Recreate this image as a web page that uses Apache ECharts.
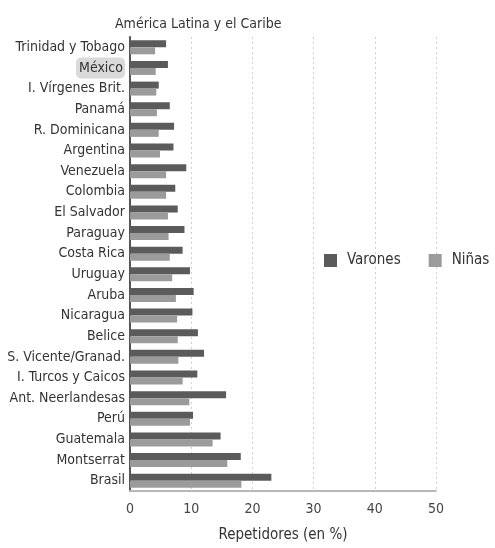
<!DOCTYPE html>
<html>
<head>
<meta charset="utf-8">
<script src="https://cdn.jsdelivr.net/npm/echarts@6/dist/echarts.min.js"></script>
<style>
  html, body { margin: 0; padding: 0; background: #fff; }
  #chart { width: 495px; height: 548px; }
</style>
</head>
<body>
<div id="chart"></div>
<script>
// Countries, listed top to bottom
const countries = [
  'Trinidad y Tobago', 'México', 'I. Vírgenes Brit.', 'Panamá', 'R. Dominicana',
  'Argentina', 'Venezuela', 'Colombia', 'El Salvador', 'Paraguay', 'Costa Rica',
  'Uruguay', 'Aruba', 'Nicaragua', 'Belice', 'S. Vicente/Granad.',
  'I. Turcos y Caicos', 'Ant. Neerlandesas', 'Perú', 'Guatemala', 'Montserrat', 'Brasil'
];
// Repeaters (%) by sex
const varones = [5.9, 6.2, 4.7, 6.5, 7.2, 7.1, 9.2, 7.4, 7.8, 8.9, 8.6, 9.8, 10.4, 10.2, 11.1, 12.1, 11.0, 15.7, 10.3, 14.8, 18.1, 23.1];
const ninas   = [4.1, 4.2, 4.3, 4.4, 4.7, 4.9, 5.9, 5.9, 6.2, 6.3, 6.5, 6.9, 7.5, 7.7, 7.8, 7.9, 8.6, 9.7, 9.8, 13.5, 15.9, 18.2];
const xTicks = [0, 10, 20, 30, 40, 50];
const highlighted = 'México';

const FONT = '"DejaVu Sans Condensed", "DejaVu Sans", sans-serif';

const chart = echarts.init(document.getElementById('chart'));
chart.setOption({
  backgroundColor: '#fff',
  animation: false,
  textStyle: { fontFamily: FONT },
  title: {
    text: 'América Latina y el Caribe',
    left: 110, top: 12,
    textStyle: { fontFamily: FONT, fontSize: 14, fontWeight: 'normal', color: '#333' }
  },
  legend: {
    data: ['Varones', 'Niñas'],
    orient: 'horizontal',
    left: 324, top: 253, width: 171, padding: 0,
    itemWidth: 13, itemHeight: 13, itemGap: 28,
    icon: 'rect',
    textStyle: { fontFamily: FONT, fontSize: 15, color: '#333', padding: [0, 0, 0, 5] }
  },
  grid: { left: 130, right: 59, top: 37, bottom: 53, containLabel: false },
  xAxis: {
    type: 'value',
    min: xTicks[0], max: xTicks[xTicks.length - 1], interval: 10,
    name: 'Repetidores (en %)',
    nameLocation: 'middle', nameGap: 37,
    nameTextStyle: { fontFamily: FONT, fontSize: 15, color: '#333' },
    axisLine: { show: true, lineStyle: { color: '#b8b8b8', width: 2 } },
    axisTick: { show: false },
    axisLabel: { fontFamily: FONT, fontSize: 14, color: '#444', margin: 11 },
    splitLine: { show: true, lineStyle: { color: '#cfcfcf', type: [2, 3], width: 1 } }
  },
  yAxis: {
    type: 'category',
    data: countries,
    inverse: true,
    axisLine: { show: true, lineStyle: { color: '#555', width: 2 } },
    axisTick: { show: false },
    axisLabel: {
      fontFamily: FONT, fontSize: 14, color: '#333', margin: 5,
      formatter: v => v === highlighted ? '{hl|' + v + '}' : v,
      rich: {
        hl: {
          fontFamily: FONT, fontSize: 14, color: '#333',
          backgroundColor: '#dadada', borderRadius: 5, padding: [4, 2, 3, 3]
        }
      }
    },
    splitLine: { show: false }
  },
  series: [
    {
      name: 'Varones', type: 'bar', data: varones,
      itemStyle: { color: '#5b5b5b' },
      barWidth: 7, barGap: '0%'
    },
    {
      name: 'Niñas', type: 'bar', data: ninas,
      itemStyle: { color: '#9b9b9b' },
      barWidth: 7, barGap: '0%'
    }
  ]
});
</script>
</body>
</html>
